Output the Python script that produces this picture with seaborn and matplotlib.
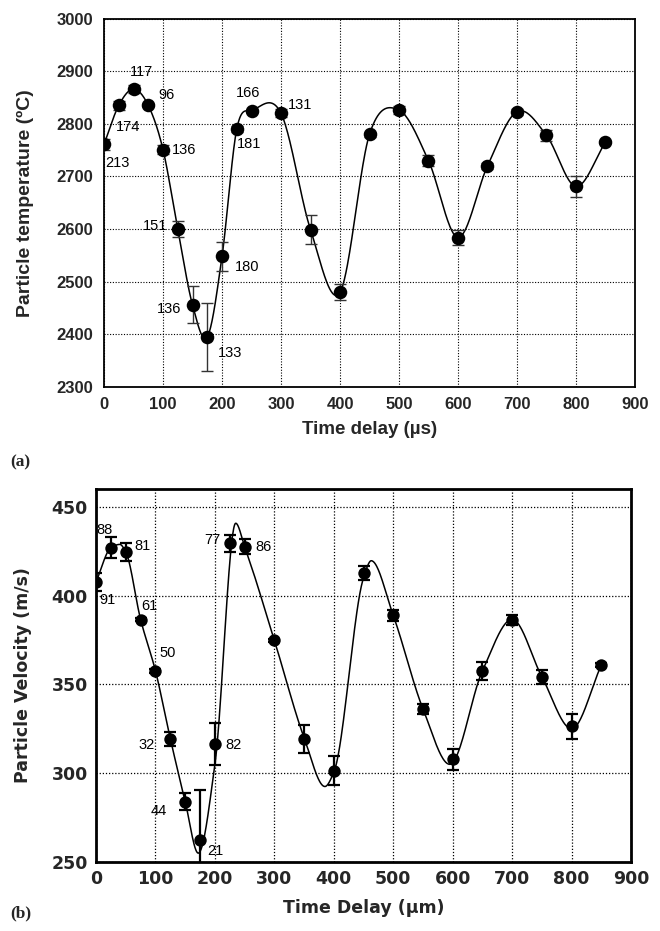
import numpy as np
import pandas as pd
import matplotlib
matplotlib.use("Agg")
import matplotlib.pyplot as plt
from matplotlib import font_manager as fm
import seaborn as sns

# ---------------- data: panel (a) ----------------
temp_x = [0, 25, 50, 75, 100, 125, 150, 175, 200, 225, 250, 300, 350, 400,
          450, 500, 550, 600, 650, 700, 750, 800, 850]
temp_y = [2761, 2835, 2866, 2835, 2751, 2600, 2456, 2395, 2548, 2790, 2825, 2820,
          2599, 2480, 2780, 2826, 2730, 2584, 2720, 2823, 2778, 2681, 2765]
temp_err = [10, 8, 8, 4, 8, 15, 35, 64, 28, 5, 4, 8, 28, 15, 5, 8, 10, 15, 6, 6, 10, 20, 4]
temp_lbl_x = [0, 25, 50, 75, 100, 125, 150, 175, 200, 225, 250, 300]
temp_lbl = ["213", "174", "117", "96", "136", "151", "136", "133", "180", "181", "166", "131"]
temp_lbl_off = [(13, -19), (9, -22), (8, 17), (18, 10), (21, 0), (-23, 3),
                (-23, -4), (23, -16), (25, -11), (12, -15), (-3, 18), (19, 8)]

# ---------------- data: panel (b) ----------------
vel_x = [0, 25, 50, 75, 100, 125, 150, 175, 200, 225, 250, 300, 350, 400,
         450, 500, 550, 600, 650, 700, 750, 800, 850]
vel_y = [407.6, 426.9, 424.6, 386.5, 357.6, 319.4, 284.0, 262.4, 316.5, 429.3, 427.6,
         374.8, 319.4, 301.5, 412.7, 388.8, 336.2, 307.8, 357.6, 386.2, 354.3, 326.3, 360.8]
vel_err = [5, 6, 5, 1, 1, 4, 5, 28, 12, 5, 4, 1, 8, 8, 4, 3, 3, 6, 5, 3, 4, 7, 1]
vel_lbl_x = [0, 25, 50, 75, 100, 125, 150, 175, 200, 225, 250]
vel_lbl = ["91", "88", "81", "61", "50", "32", "44", "21", "82", "77", "86"]
vel_lbl_off = [(11, -18), (-6, 18), (17, 6), (9, 14), (12, 18), (-24, -6),
               (-26, -9), (15, -11), (19, -1), (-17, 3), (19, 0)]
# smooth fit curve (knots)
fit_x = [0, 25, 40, 50, 75, 100, 125, 150, 172, 200, 235, 250, 300, 350, 385,
         400, 450, 463, 500, 550, 595, 650, 700, 750, 800, 850]
fit_y = [407.6, 426.9, 428.8, 424.6, 386.5, 357.6, 319.4, 284.0, 255.0, 305.0, 440.7, 427.6,
         374.8, 320.0, 292.5, 300.5, 410.0, 419.6, 388.8, 336.2, 305.0, 357.6, 386.6,
         354.3, 325.0, 360.8]


def catmull(xk, yk, n=40):
    xk = np.asarray(xk, float); yk = np.asarray(yk, float)
    m = np.empty_like(yk)
    m[1:-1] = (yk[2:] - yk[:-2]) / (xk[2:] - xk[:-2])
    m[0] = (yk[1] - yk[0]) / (xk[1] - xk[0])
    m[-1] = (yk[-1] - yk[-2]) / (xk[-1] - xk[-2])
    return hermite(xk, yk, m, n)


def pchip(xk, yk, n=40):
    xk = np.asarray(xk, float); yk = np.asarray(yk, float)
    h = np.diff(xk); d = np.diff(yk) / h
    m = np.zeros_like(yk)
    for k in range(1, len(xk) - 1):
        if d[k - 1] * d[k] > 0:
            w1 = 2 * h[k] + h[k - 1]; w2 = h[k] + 2 * h[k - 1]
            m[k] = (w1 + w2) / (w1 / d[k - 1] + w2 / d[k])
    m[0] = d[0]; m[-1] = d[-1]
    return hermite(xk, yk, m, n)


def hermite(xk, yk, m, n):
    xs, ys = [], []
    for i in range(len(xk) - 1):
        h = xk[i + 1] - xk[i]
        t = np.linspace(0, 1, n, endpoint=(i == len(xk) - 2))
        h00 = 2 * t**3 - 3 * t**2 + 1; h10 = t**3 - 2 * t**2 + t
        h01 = -2 * t**3 + 3 * t**2; h11 = t**3 - t**2
        xs.append(xk[i] + t * h)
        ys.append(h00 * yk[i] + h10 * h * m[i] + h01 * yk[i + 1] + h11 * h * m[i + 1])
    return np.concatenate(xs), np.concatenate(ys)


def font_file(name, bold):
    best = None
    for f in fm.fontManager.ttflist:
        if f.name != name:
            continue
        fn = f.fname.lower()
        if "narrow" in fn or "italic" in fn or "oblique" in fn:
            continue
        isbold = (f.weight in (700, "bold")) or ("bold" in fn)
        if isbold == bold:
            best = f.fname
            break
    return best


sns.set_style("white")
plt.rcParams['font.family'] = ['Liberation Sans', 'DejaVu Sans']

lb = font_file("Liberation Sans", True)
lr = font_file("Liberation Sans", False)
SB = fm.FontProperties(fname=lb) if lb else fm.FontProperties(family="DejaVu Sans", weight="bold")
SR = fm.FontProperties(fname=lr) if lr else fm.FontProperties(family="DejaVu Sans")
DB = fm.FontProperties(family="DejaVu Sans", weight="bold")


def fp(base, size):
    p = base.copy(); p.set_size(size); return p


fig = plt.figure(figsize=(6.6, 9.31), dpi=100)
ax1 = fig.add_axes([0.1576, 0.5843, 0.8045, 0.3958])
ax2 = fig.add_axes([0.1455, 0.0741, 0.8106, 0.4007])

# ---------- panel (a) ----------
dfa = pd.DataFrame({"x": temp_x, "y": temp_y, "e": temp_err})
cx, cy = catmull(temp_x, temp_y)
sns.lineplot(x=cx, y=cy, ax=ax1, color="black", linewidth=1.1, sort=False,
             estimator=None, zorder=2)
ax1.errorbar(dfa.x, dfa.y, yerr=dfa.e, fmt="none", ecolor="#333333",
             elinewidth=1.0, capsize=4, capthick=1.0, zorder=3)
sns.scatterplot(data=dfa, x="x", y="y", ax=ax1, color="black", s=95,
                edgecolor="black", linewidth=0, zorder=4)
for xv, t, off in zip(temp_lbl_x, temp_lbl, temp_lbl_off):
    yv = temp_y[temp_x.index(xv)]
    ax1.annotate(t, (xv, yv), xytext=off, textcoords="offset pixels",
                 ha="center", va="center", fontproperties=fp(SR, 10.5), color="black")
ax1.set_xlim(0, 900)
ax1.set_ylim(2300, 3000)
ax1.set_xticks(range(0, 1000, 100))
ax1.set_yticks(range(2300, 3100, 100))
ax1.grid(True, which="major", linestyle=(0, (1, 1.5)), color="black", linewidth=0.8)
for s in ax1.spines.values():
    s.set_color("black"); s.set_linewidth(1.3); s.set_visible(True)
ax1.tick_params(axis="both", direction="out", length=5, width=1.1, color="black", pad=3)
ax1.tick_params(axis="x", direction="inout", length=8)
for lab in ax1.get_xticklabels() + ax1.get_yticklabels():
    lab.set_fontproperties(fp(SB, 12))
ax1.set_xlabel("Time delay (µs)", fontproperties=fp(SB, 13.5), labelpad=7)
ax1.set_ylabel("Particle temperature (ºC)", fontproperties=fp(SB, 14), labelpad=16)
fig.text(0.015, 1 - 462 / 931, "(a)", fontsize=12.5, fontweight="bold",
         family="Liberation Serif", va="center")

# ---------- panel (b) ----------
dfb = pd.DataFrame({"x": vel_x, "y": vel_y, "e": vel_err})
fx, fy = pchip(fit_x, fit_y)
sns.lineplot(x=fx, y=fy, ax=ax2, color="black", linewidth=1.1, sort=False,
             estimator=None, zorder=2)
ax2.errorbar(dfb.x, dfb.y, yerr=dfb.e, fmt="none", ecolor="black",
             elinewidth=1.6, capsize=4.5, capthick=1.6, zorder=3)
sns.scatterplot(data=dfb, x="x", y="y", ax=ax2, color="black", s=80,
                edgecolor="black", linewidth=0, zorder=4)
for xv, t, off in zip(vel_lbl_x, vel_lbl, vel_lbl_off):
    yv = vel_y[vel_x.index(xv)]
    ax2.annotate(t, (xv, yv), xytext=off, textcoords="offset pixels",
                 ha="center", va="center", fontproperties=fp(SR, 10.5), color="black")
ax2.set_xlim(0, 900)
ax2.set_ylim(250, 460)
ax2.set_xticks(range(0, 1000, 100))
ax2.set_yticks(range(250, 500, 50))
ax2.grid(True, which="major", linestyle=(0, (1, 1.5)), color="black", linewidth=0.9)
for s in ax2.spines.values():
    s.set_color("black"); s.set_linewidth(2.0); s.set_visible(True)
ax2.tick_params(axis="both", direction="out", length=4, width=1.3, color="black", pad=2)
ax2.tick_params(axis="x", direction="inout", length=8)
for lab in ax2.get_xticklabels() + ax2.get_yticklabels():
    lab.set_fontproperties(fp(DB, 12.5))
ax2.set_xlabel("Time Delay (μm)", fontproperties=fp(DB, 12.5), labelpad=8)
ax2.set_ylabel("Particle Velocity (m/s)", fontproperties=fp(DB, 12.5), labelpad=14)
fig.text(0.015, 1 - 913 / 931, "(b)", fontsize=12.5, fontweight="bold",
         family="Liberation Serif", va="center")

fig.savefig("out.png", dpi=100)
